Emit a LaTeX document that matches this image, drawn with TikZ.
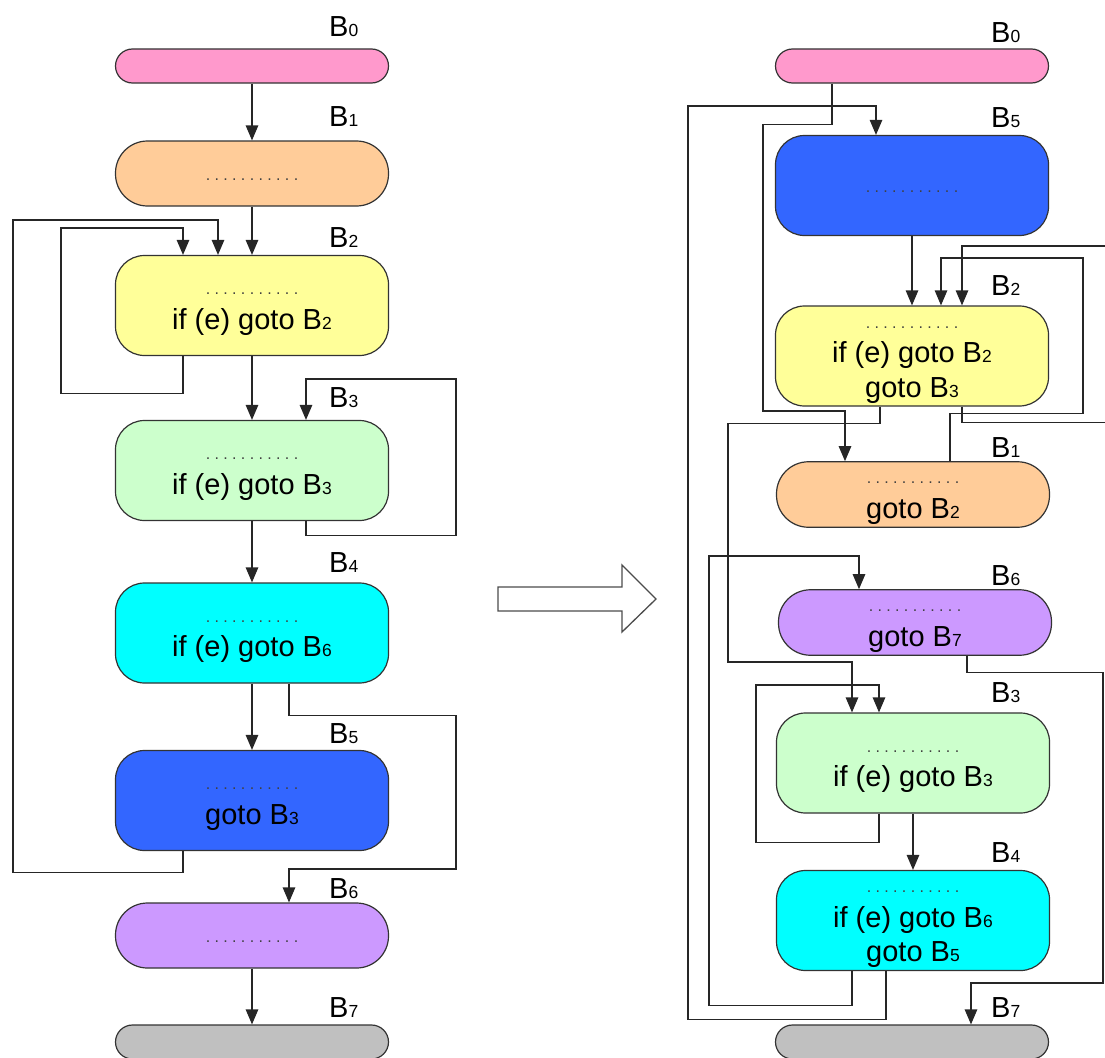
\documentclass[tikz,border=0pt]{standalone}
\usepackage{fontspec}
\setmainfont{Liberation Sans}
\usetikzlibrary{arrows.meta,calc}

\definecolor{cBzero}{HTML}{FF99CC}
\definecolor{cBone}{HTML}{FFCC99}
\definecolor{cBtwo}{HTML}{FFFF99}
\definecolor{cBthree}{HTML}{CCFFCC}
\definecolor{cBfour}{HTML}{00FFFF}
\definecolor{cBfive}{HTML}{3366FF}
\definecolor{cBsix}{HTML}{CC99FF}
\definecolor{cBseven}{HTML}{C0C0C0}

% block name with a small digit on the baseline
\newcommand\Bn[1]{B{\fontsize{17.5}{17.5}\selectfont #1}}
% fixed line box so every line of a block has the same height
\newcommand\blkstrut{\vrule width 0pt height 22pt depth 9pt}
% the row of dots standing for elided statements
\newcommand\dotrow{\blkstrut{\fontsize{16}{16}\selectfont\color{black!75}%
.\kern4.35pt.\kern4.35pt.\kern4.35pt.\kern4.35pt.\kern4.35pt.\kern4.35pt.\kern4.35pt.\kern4.35pt.\kern4.35pt.\kern4.35pt.}}

\tikzset{
  blk/.style={draw=black!80, line width=1.2pt, minimum width=273pt, inner sep=0pt,
              align=center, font=\fontsize{29}{34.5}\selectfont, text=black},
  tallblk/.style={blk, minimum height=100pt, rounded corners=29pt},
  midblk/.style={blk, minimum height=65pt, rounded corners=32pt},
  flatblk/.style={blk, minimum height=34pt, rounded corners=17pt},
  lbl/.style={anchor=base west, inner sep=0pt, font=\fontsize{29}{34.5}\selectfont},
  arr/.style={draw=black!85, line width=1.2pt, -{Triangle[length=15pt,width=12.5pt]}},
  hollow/.style={draw=black!70, line width=1.3pt, fill=white, line join=miter}
}

\begin{document}
\begin{tikzpicture}[x=1pt, y=-1pt]
\useasboundingbox (0,0) rectangle (1105,1057);
\clip (0,0) rectangle (1105,1057);

% ---------------- original layout ----------------
\node[flatblk, fill=cBzero]  (L0) at (252,66) {};
\node[midblk,  fill=cBone]   (L1) at (252,173.5) {\dotrow};
\node[tallblk, fill=cBtwo]   (L2) at (252,305.5) {\dotrow\\\blkstrut if (e) goto \Bn2};
\node[tallblk, fill=cBthree] (L3) at (252,470.5) {\dotrow\\\blkstrut if (e) goto \Bn3};
\node[tallblk, fill=cBfour]  (L4) at (252,633) {\dotrow\\\blkstrut if (e) goto \Bn6};
\node[tallblk, fill=cBfive]  (L5) at (252,800.5) {\dotrow\\\blkstrut goto \Bn3};
\node[midblk,  fill=cBsix]   (L6) at (252,935.5) {\dotrow};
\node[flatblk, fill=cBseven] (L7) at (252,1042) {};

\node[lbl] (lL0) at (329,37)   {\Bn0};
\node[lbl] (lL1) at (329,126)  {\Bn1};
\node[lbl] (lL2) at (329,247)  {\Bn2};
\node[lbl] (lL3) at (329,407)  {\Bn3};
\node[lbl] (lL4) at (329,572)  {\Bn4};
\node[lbl] (lL5) at (329,743)  {\Bn5};
\node[lbl] (lL6) at (329,898)  {\Bn6};
\node[lbl] (lL7) at (329,1017) {\Bn7};

\draw[arr] (L0) -- (L1);
\draw[arr] (L1) -- (L2);
\draw[arr] (L2) -- (L3);
\draw[arr] (L3) -- (L4);
\draw[arr] (L4) -- (L5);
\draw[arr] (L6) -- (L7);
% B2 loops to itself
\draw[arr] ($(L2.south)+(-69,0)$) -- ++(0,37) -| (61,228) -| ($(L2.north)+(-69,0)$);
% B5 back to B2
\draw[arr] ($(L5.south)+(-69,0)$) -- ++(0,21) -| (13,220) -| ($(L2.north)+(-34,0)$);
% B3 loops to itself
\draw[arr] ($(L3.south)+(54,0)$) -- ++(0,14) -| (456,379) -| ($(L3.north)+(54,0)$);
% B4 jumps to B6
\draw[arr] ($(L4.south)+(37,0)$) -- ++(0,32) -| (456,869) -| ($(L6.north)+(37,0)$);

% ---------------- transformation arrow ----------------
\draw[hollow] (498,587) -- (622,587) -- (622,565) -- (656,599) -- (622,632)
  -- (622,611) -- (498,611) -- cycle;

% ---------------- reordered layout ----------------
\node[flatblk, fill=cBzero]  (R0) at (912,66) {};
\node[tallblk, fill=cBfive]  (R5) at (912,185.5) {\dotrow};
\node[tallblk, fill=cBtwo]   (R2) at (912,356) {\dotrow\\\blkstrut if (e) goto \Bn2\\\blkstrut goto \Bn3};
\node[midblk,  fill=cBone]   (R1) at (913,494.5) {\dotrow\\\blkstrut goto \Bn2};
\node[midblk,  fill=cBsix]   (R6) at (915,622.5) {\dotrow\\\blkstrut goto \Bn7};
\node[tallblk, fill=cBthree] (R3) at (913,763) {\dotrow\\\blkstrut if (e) goto \Bn3};
\node[tallblk, fill=cBfour]  (R4) at (913,920.5) {\dotrow\\\blkstrut if (e) goto \Bn6\\\blkstrut goto \Bn5};
\node[flatblk, fill=cBseven] (R7) at (912,1042) {};

\node[lbl] (lR0) at (991,43)   {\Bn0};
\node[lbl] (lR5) at (991,127)  {\Bn5};
\node[lbl] (lR2) at (991,295)  {\Bn2};
\node[lbl] (lR1) at (991,457)  {\Bn1};
\node[lbl] (lR6) at (991,585)  {\Bn6};
\node[lbl] (lR3) at (991,702)  {\Bn3};
\node[lbl] (lR4) at (991,862)  {\Bn4};
\node[lbl] (lR7) at (991,1017) {\Bn7};

% B0 falls through to B1
\draw[arr] ($(R0.south)+(-80,0)$) -- ++(0,41) -| (763,411) -| ($(R1.north)+(-68,0)$);
% B4 falls through to B5
\draw[arr] ($(R4.south)+(-27,0)$) -- ++(0,48) -| (688,106) -| ($(R5.north)+(-36,0)$);
% B5 to B2
\draw[arr] (R5) -- (R2);
% B1 back to B2
\draw[arr] ($(R1.north)+(37,0)$) -- ++(0,-48) -| (1083,258) -| ($(R2.north)+(29,0)$);
% B2 loops to itself
\draw[arr] ($(R2.south)+(50,0)$) -- ++(0,16) -| (1120,246) -| ($(R2.north)+(50,0)$);
% B2 to B3
\draw[arr] ($(R2.south)+(-32,0)$) -- ++(0,17) -| (728,662) -| ($(R3.north)+(-61,0)$);
% B3 loops to itself
\draw[arr] ($(R3.south)+(-34,0)$) -- ++(0,29) -| (756,685) -| ($(R3.north)+(-34,0)$);
% B3 to B4
\draw[arr] (R3) -- (R4);
% B4 jumps to B6
\draw[arr] ($(R4.south)+(-61,0)$) -- ++(0,34) -| (709,556) -| ($(R6.north)+(-56,0)$);
% B6 to B7
\draw[arr] ($(R6.south)+(52,0)$) -- ++(0,17) -| (1103,983) -| ($(R7.north)+(59,0)$);
\end{tikzpicture}
\end{document}
